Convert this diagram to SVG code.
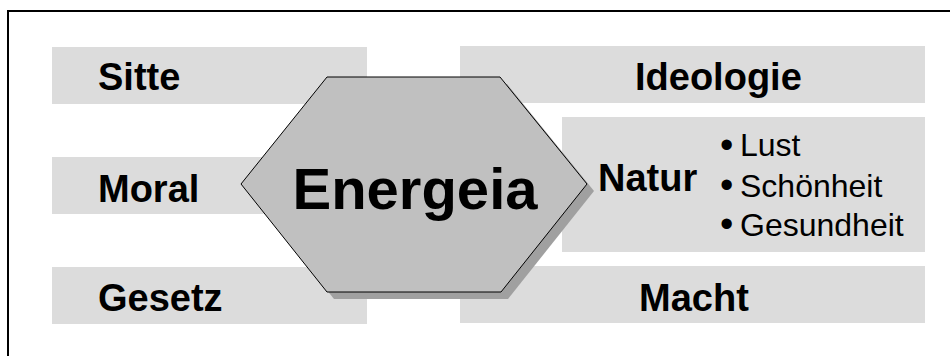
<svg xmlns="http://www.w3.org/2000/svg" width="950" height="356" viewBox="0 0 950 356">
<style>
.box{fill:#dcdcdc}
.lbl{font-family:"Liberation Sans",Arial,sans-serif;font-weight:bold;font-size:38px;fill:#000}
.item{font-family:"Liberation Sans",Arial,sans-serif;font-size:32px;fill:#000}
.bul{font-size:38px}
</style>
<rect x="0" y="0" width="950" height="356" fill="#fff"/>
<path d="M8 360 V11 H960" fill="none" stroke="#000" stroke-width="2"/>
<g id="sitte"><rect class="box" x="52" y="47" width="315" height="57"/><text class="lbl" x="98" y="90">Sitte</text></g>
<g id="moral"><rect class="box" x="52" y="157" width="315" height="57"/><text class="lbl" x="98" y="202">Moral</text></g>
<g id="gesetz"><rect class="box" x="52" y="267" width="315" height="57"/><text class="lbl" x="98" y="311">Gesetz</text></g>
<g id="ideologie"><rect class="box" x="460" y="46" width="465" height="57"/><text class="lbl" x="635" y="90">Ideologie</text></g>
<g id="natur"><rect class="box" x="562" y="117" width="363" height="135"/><text class="lbl" x="598" y="191">Natur</text>
<text class="item" x="720" y="158"><tspan class="bul">•</tspan><tspan x="740" y="156">Lust</tspan></text>
<text class="item" x="720" y="198"><tspan class="bul">•</tspan><tspan x="740" y="197">Schönheit</tspan></text>
<text class="item" x="720" y="237"><tspan class="bul">•</tspan><tspan x="740" y="236">Gesundheit</tspan></text></g>
<g id="macht"><rect class="box" x="460" y="266" width="465" height="57"/><text class="lbl" x="639" y="311">Macht</text></g>
<g id="energeia">
<polygon points="248,191 334,84 507,84 594,191 508,299 334,299" fill="#a0a0a0"/>
<polygon points="241,184 327,77 500,77 587,184 501,292 327,292" fill="#c0c0c0" stroke="#000" stroke-width="1"/>
<text class="lbl" x="415" y="209" text-anchor="middle" style="font-size:58px">Energeia</text>
</g>
<g id="connectors"/>
</svg>
